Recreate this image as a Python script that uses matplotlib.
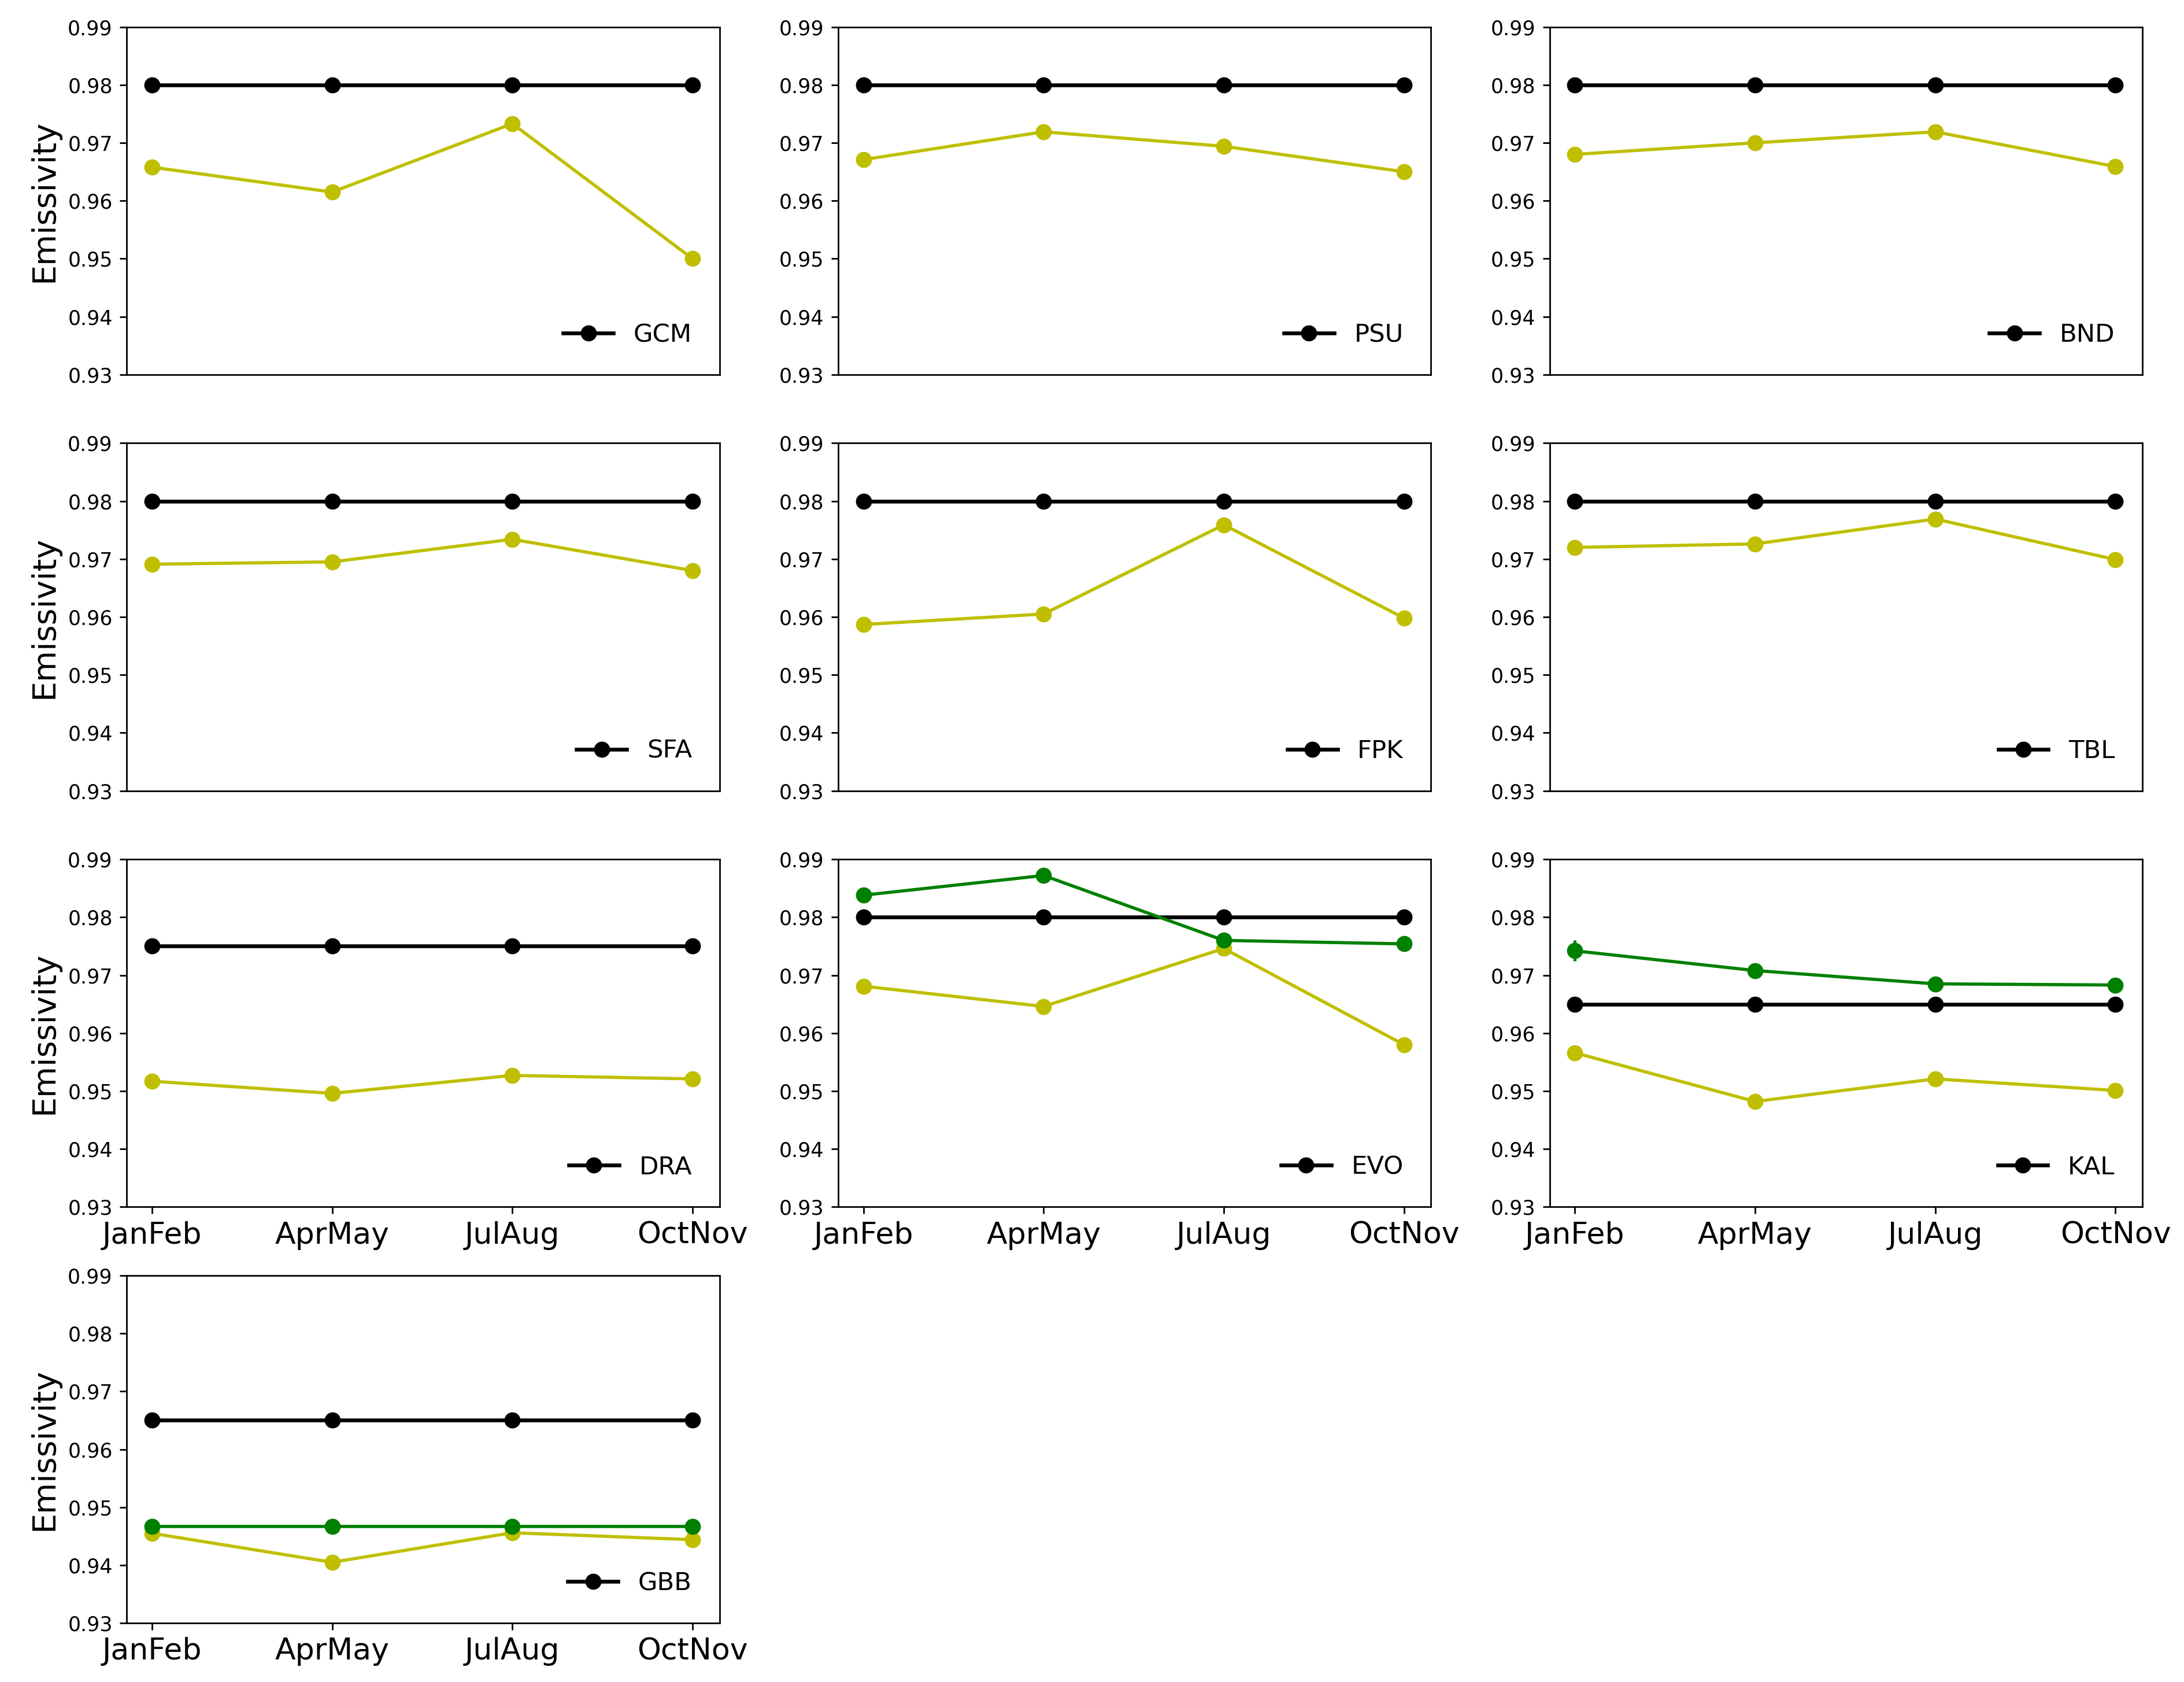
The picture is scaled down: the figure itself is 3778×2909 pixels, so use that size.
import numpy as np
import matplotlib
matplotlib.use("Agg")
import matplotlib.pyplot as plt

# 站点与时段
sites = ["GCM", "PSU", "BND", "SFA", "FPK", "TBL", "DRA", "EVO", "KAL", "GBB"]
periods = ["JanFeb", "AprMay", "JulAug", "OctNov"]

# 参考发射率（黑线）
ref_vals = {
    "GCM": [0.98, 0.98, 0.98, 0.98],
    "PSU": [0.98, 0.98, 0.98, 0.98],
    "BND": [0.98, 0.98, 0.98, 0.98],
    "SFA": [0.98, 0.98, 0.98, 0.98],
    "FPK": [0.98, 0.98, 0.98, 0.98],
    "TBL": [0.98, 0.98, 0.98, 0.98],
    "DRA": [0.975, 0.975, 0.975, 0.975],
    "EVO": [0.98, 0.98, 0.98, 0.98],
    "KAL": [0.965, 0.965, 0.965, 0.965],
    "GBB": [0.965, 0.965, 0.965, 0.965],
}

# 黄线
yellow_vals = {
    "GCM": [0.9658, 0.9615, 0.9733, 0.9500],
    "PSU": [0.9671, 0.9719, 0.9694, 0.9650],
    "BND": [0.9680, 0.9700, 0.9719, 0.9659],
    "SFA": [0.9691, 0.9695, 0.9734, 0.9680],
    "FPK": [0.9587, 0.9605, 0.9759, 0.9598],
    "TBL": [0.9720, 0.9726, 0.9769, 0.9699],
    "DRA": [0.9517, 0.9496, 0.9527, 0.9521],
    "EVO": [0.9681, 0.9646, 0.9746, 0.9580],
    "KAL": [0.9566, 0.9482, 0.9521, 0.9501],
    "GBB": [0.9455, 0.9405, 0.9456, 0.9444],
}

# 绿线（只有部分站点）
green_vals = {
    "EVO": [0.9838, 0.9872, 0.9760, 0.9754],
    "KAL": [0.9742, 0.9708, 0.9685, 0.9683],
    "GBB": [0.9467, 0.9467, 0.9467, 0.9467],
}
green_err = {
    "KAL": [0.0018, 0.0, 0.0, 0.0],
}

y_ticks = [0.93, 0.94, 0.95, 0.96, 0.97, 0.98, 0.99]

fig = plt.figure(figsize=(15.112, 11.636), dpi=250)
gs = fig.add_gridspec(4, 3, left=0.058, right=0.981, top=0.984, bottom=0.035,
                      wspace=0.2, hspace=0.197)

x = np.arange(len(periods))
for i, site in enumerate(sites):
    ax = fig.add_subplot(gs[i // 3, i % 3])
    ax.plot(x, yellow_vals[site], "-o", color="y", linewidth=1.6, markersize=7)
    if site in green_vals:
        yerr = green_err.get(site, None)
        ax.errorbar(x, green_vals[site], yerr=yerr, fmt="-o", color="g",
                    linewidth=1.6, markersize=7, elinewidth=1.5)
    ax.plot(x, ref_vals[site], "-o", color="k", linewidth=1.9, markersize=7, label=site)
    ax.set_ylim(0.93, 0.99)
    ax.set_yticks(y_ticks)
    ax.set_yticklabels(["%.2f" % v for v in y_ticks], fontsize=10)
    ax.set_xlim(-0.14, 3.15)
    if i >= 6:
        ax.set_xticks(x)
        ax.set_xticklabels(periods, fontsize=15)
    else:
        ax.set_xticks([])
    if i % 3 == 0:
        ax.set_ylabel("Emissivity", fontsize=16)
    ax.legend(loc="lower right", frameon=False, fontsize=12.5, borderaxespad=0.7)

plt.savefig("out.png", dpi=250)
